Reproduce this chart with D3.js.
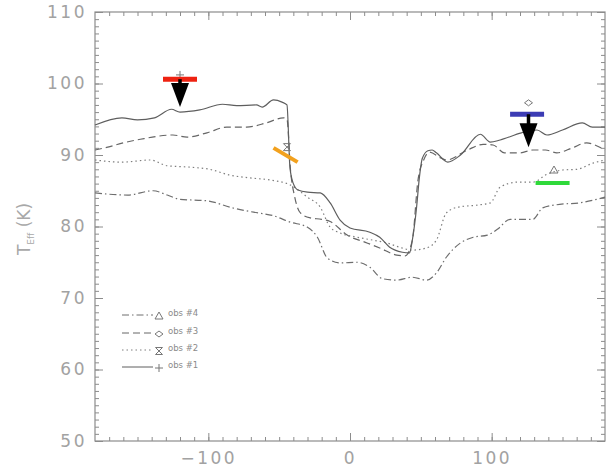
<!DOCTYPE html>
<html>
<head>
<meta charset="utf-8">
<script src="https://cdn.jsdelivr.net/npm/d3@7"></script>
<style>
  body { margin: 0; background: #fff; }
  text { font-family: "DejaVu Sans", sans-serif; }
</style>
</head>
<body>
<div id="chart"></div>
<script>
// effective temperature profiles, [offset, T_eff (K)]
const obs1 = [[-180,94.2],[-161,95.2],[-150,94.9],[-138,95.2],[-126,96.4],[-120,96.0],[-106,96.3],[-90,97.1],[-80,96.9],[-66,97.0],[-62,96.7],[-54,97.7],[-48,97.4],[-44.5,97.0],[-42.4,88.3],[-40.2,86.1],[-36.7,85.1],[-30,84.8],[-21,84.7],[-14,83.3],[-7,80.9],[0,79.8],[14,79.2],[21,78.5],[28,77.1],[37,76.4],[42,76.3],[44,78.1],[47,82.7],[49,86.9],[51,89.5],[55,90.6],[58,90.7],[61,90.3],[69,89.0],[78,90.0],[92,92.9],[99,91.8],[106,92.1],[121,93.1],[132,93.5],[139,92.8],[150,93.5],[164,94.5],[171,93.9],[180,93.9]];
const obs3 = [[-180,90.7],[-171,91.1],[-160,91.7],[-148,92.2],[-125,92.8],[-115,92.5],[-101,93.1],[-87,93.9],[-73,93.9],[-59,94.5],[-47,95.2],[-44.5,95.0],[-42,87.9],[-39,84.1],[-35,81.9],[-28,81.2],[-20,81.0],[-14,80.7],[-2,78.8],[12,77.7],[21,77.0],[33,76.0],[39,75.9],[44,78.1],[48,86.5],[52,89.3],[56,90.4],[64,89.6],[68,89.3],[83,90.7],[94,91.5],[101,91.4],[109,90.3],[120,90.3],[129,90.7],[138,90.7],[146,90.3],[157,91.0],[167,91.7],[174,91.3],[180,90.7]];
const obs2 = [[-180,89.3],[-161,89.0],[-141,89.3],[-129,88.5],[-113,88.3],[-99,88.0],[-85,87.2],[-71,86.8],[-56,86.5],[-42,85.8],[-30,84.1],[-21,82.7],[-14,79.9],[-7,79.1],[5,78.5],[16,78.1],[26,77.7],[35,77.1],[44,76.7],[54,77.0],[61,78.1],[68,81.9],[76,82.7],[90,83.0],[99,83.3],[106,85.5],[118,86.2],[129,86.2],[139,87.3],[150,87.9],[160,88.0],[172,88.9],[180,89.3]];
const obs4 = [[-180,84.7],[-157,84.4],[-139,85.0],[-129,84.4],[-120,83.8],[-101,83.6],[-83,82.6],[-68,82.0],[-54,81.5],[-42,80.6],[-30,79.9],[-23,78.5],[-16,75.6],[-7,74.9],[5,75.0],[14,74.3],[23,72.7],[33,72.5],[44,72.9],[54,72.5],[61,73.5],[68,75.7],[78,77.7],[87,78.5],[97,78.8],[104,79.6],[113,81.0],[129,81.0],[136,82.6],[148,83.1],[162,83.3],[172,83.7],[180,84.1]];

const seriesNames = ["obs #4", "obs #3", "obs #2", "obs #1"];

// observed values: point symbol position and the coloured bar
const obsPointX = [144, 126, -44.5, -120];
const obsPointT = [87.9, 97.3, 91.1, 101.2];
const barX = [143, 125, -45.5, -120];
const barT = [86.1, 95.7, 90.0, 100.6];
// upper-limit arrows (obs #1, obs #3)
const arrowX = [-120, 126];
const arrowTop = [100.6, 95.7];
const arrowTip = [96.7, 91.1];

const xTicks = [-100, 0, 100];
const yTicks = [50, 60, 70, 80, 90, 100, 110];

const width = 606, height = 467;
const x = d3.scaleLinear().domain([-180, 180]).range([95, 605]);
const y = d3.scaleLinear().domain([50, 110]).range([441, 12]);

const svg = d3.select("#chart").append("svg")
  .attr("width", width).attr("height", height);

const axisColor = "#8c8c8c";
const labelColor = "#a2a2a2";

// frame and ticks on all four sides, ticks pointing inwards
function styleAxis(g) {
  g.select(".domain").remove();
  g.selectAll("line").attr("stroke", axisColor).attr("stroke-width", 1);
  g.selectAll("text").attr("fill", labelColor).attr("font-size", 17).attr("letter-spacing", 2.5);
}

svg.append("g").attr("transform", `translate(0,${y(50)})`)
  .call(d3.axisBottom(x).tickValues(xTicks).tickSize(-8).tickPadding(11).tickFormat(d3.format("d")))
  .call(styleAxis);
svg.append("g").attr("transform", `translate(0,${y(50)})`)
  .call(d3.axisBottom(x).tickValues(d3.range(-170, 180, 10)).tickSize(-4).tickFormat(""))
  .call(styleAxis);
svg.append("g").attr("transform", `translate(0,${y(110)})`)
  .call(d3.axisTop(x).tickValues(xTicks).tickSize(-8).tickFormat(""))
  .call(styleAxis);
svg.append("g").attr("transform", `translate(0,${y(110)})`)
  .call(d3.axisTop(x).tickValues(d3.range(-170, 180, 10)).tickSize(-4).tickFormat(""))
  .call(styleAxis);

svg.append("g").attr("transform", `translate(${x(-180)},0)`)
  .call(d3.axisLeft(y).tickValues(yTicks).tickSize(-8).tickPadding(8))
  .call(styleAxis);
svg.append("g").attr("transform", `translate(${x(-180)},0)`)
  .call(d3.axisLeft(y).tickValues(d3.range(51, 110, 1)).tickSize(-4).tickFormat(""))
  .call(styleAxis);
svg.append("g").attr("transform", `translate(${x(180)},0)`)
  .call(d3.axisRight(y).tickValues(yTicks).tickSize(-8).tickFormat(""))
  .call(styleAxis);
svg.append("g").attr("transform", `translate(${x(180)},0)`)
  .call(d3.axisRight(y).tickValues(d3.range(51, 110, 1)).tickSize(-4).tickFormat(""))
  .call(styleAxis);

svg.append("rect")
  .attr("x", x(-180)).attr("y", y(110))
  .attr("width", x(180) - x(-180)).attr("height", y(50) - y(110))
  .attr("fill", "none").attr("stroke", axisColor).attr("stroke-width", 1.2);

// y axis title T_Eff (K)
const title = svg.append("text")
  .attr("transform", "translate(30,229) rotate(-90)")
  .attr("text-anchor", "middle")
  .attr("fill", "#a8a8a8")
  .attr("font-size", 17);
title.append("tspan").text("T");
title.append("tspan").attr("font-size", 9).attr("dy", 4).text("Eff");
title.append("tspan").attr("dy", -4).text(" (K)");

// curves
const line = d3.line().x(d => x(d[0])).y(d => y(d[1])).curve(d3.curveMonotoneX);
const allSeries = [obs4, obs3, obs2, obs1];
const dashes = ["7,3,1.5,3", "7,4", "1.5,3", null];
const strokes = ["#6e6e6e", "#666", "#7e7e7e", "#5e5e5e"];

svg.append("g").selectAll("path")
  .data(allSeries)
  .join("path")
  .attr("d", line)
  .attr("fill", "none")
  .attr("stroke", (d, i) => strokes[i])
  .attr("stroke-width", 1.2)
  .attr("stroke-dasharray", (d, i) => dashes[i]);

// IDL-like plot symbols: triangle, diamond, asterisk, plus
function drawSymbol(g, i, cx, cy) {
  let d;
  if (i === 0) d = `M${cx - 4},${cy + 3}L${cx + 4},${cy + 3}L${cx},${cy - 4}Z`;
  else if (i === 1) d = `M${cx - 4},${cy}L${cx},${cy - 3}L${cx + 4},${cy}L${cx},${cy + 3}Z`;
  else if (i === 2) d = `M${cx - 3.5},${cy - 3.5}L${cx + 3.5},${cy + 3.5}M${cx + 3.5},${cy - 3.5}L${cx - 3.5},${cy + 3.5}M${cx - 3.5},${cy - 3.5}H${cx + 3.5}M${cx - 3.5},${cy + 3.5}H${cx + 3.5}`;
  else d = `M${cx - 4},${cy}H${cx + 4}M${cx},${cy - 4}V${cy + 4}`;
  g.append("path").attr("d", d)
    .attr("stroke", "#777").attr("stroke-width", 1).attr("fill", "none");
}

const marks = svg.append("g");
obsPointX.forEach((v, i) => drawSymbol(marks, i, x(v), y(obsPointT[i])));

// coloured bars for the measured temperatures
const barColors = ["#2fd93a", "#3c3cb4", "#f2a11e", "#ee2211"];
const barHalf = 12;
barX.forEach((v, i) => {
  if (i === 2) {
    // the obs #2 bar is drawn slanted
    marks.append("line")
      .attr("x1", x(v - 8.5)).attr("y1", y(barT[i] + 1.0))
      .attr("x2", x(v + 8.5)).attr("y2", y(barT[i] - 1.0))
      .attr("stroke", barColors[i]).attr("stroke-width", 4);
  } else {
    marks.append("line")
      .attr("x1", x(v - barHalf)).attr("x2", x(v + barHalf))
      .attr("y1", y(barT[i])).attr("y2", y(barT[i]))
      .attr("stroke", barColors[i]).attr("stroke-width", i === 0 ? 4 : 5);
  }
});

// upper limit arrows
arrowX.forEach((v, i) => {
  const cx = x(v), top = y(arrowTop[i]), tip = y(arrowTip[i]);
  const head = 24, half = 9;
  marks.append("line")
    .attr("x1", cx).attr("x2", cx).attr("y1", top).attr("y2", tip - head + 1)
    .attr("stroke", "#000").attr("stroke-width", 3.5);
  marks.append("path")
    .attr("d", `M${cx - half},${tip - head}L${cx + half},${tip - head}L${cx},${tip}Z`)
    .attr("fill", "#000");
});

// legend
const legend = svg.append("g");
const legY = [315, 333, 350, 367];
seriesNames.forEach((name, i) => {
  legend.append("line")
    .attr("x1", 122).attr("x2", 153).attr("y1", legY[i]).attr("y2", legY[i])
    .attr("stroke", strokes[i]).attr("stroke-width", 1)
    .attr("stroke-dasharray", dashes[i]);
  drawSymbol(legend, i, 159, legY[i] + 1);
  legend.append("text")
    .attr("x", 168).attr("y", legY[i]).attr("dy", "0.1em")
    .attr("fill", "#8a8a8a").attr("font-size", 8.5)
    .text(name);
});
</script>
</body>
</html>
